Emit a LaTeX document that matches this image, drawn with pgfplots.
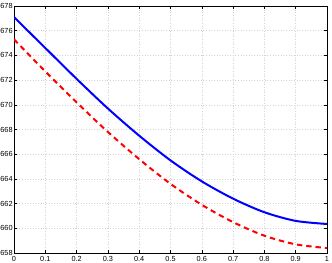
\documentclass[border=0pt]{standalone}
\usepackage{fontspec}
\setmainfont{Liberation Sans}
\usepackage{pgfplots}
\pgfplotsset{compat=1.18}

\begin{document}
\begin{tikzpicture}
\begin{axis}[
    scale only axis, width=234.75pt, height=185.25pt,
    xmin=0, xmax=1, ymin=658, ymax=678,
    xtick={0,0.1,...,1}, ytick={658,660,...,678},
    tick align=inside, major tick length=2.5pt,
    grid=major, grid style={gray!35, dash pattern=on 0.5pt off 1.5pt, line width=0.4pt},
    axis line style={line width=0.5pt},
    tick label style={font=\fontsize{5.5}{6}\selectfont},
    /pgf/number format/assume math mode=true,
    xticklabel style={yshift=1pt},
    yticklabel style={xshift=2.5pt},
    every tick/.style={black, line width=0.4pt}]
\addplot[blue, line width=1.5pt, smooth] coordinates {
  (0,677.1) (0.1,674.6) (0.2,672.1) (0.3,669.7) (0.4,667.5) (0.5,665.5)
  (0.6,663.8) (0.7,662.4) (0.8,661.3) (0.9,660.6) (1,660.35)
};
\addplot[red, line width=1.5pt, smooth, dash pattern=on 4pt off 3pt] coordinates {
  (0,675.3) (0.1,672.7) (0.2,670.2) (0.3,667.8) (0.4,665.6) (0.5,663.6)
  (0.6,661.9) (0.7,660.5) (0.8,659.4) (0.9,658.7) (1,658.4)
};
\coordinate (sw) at (rel axis cs:0,0);
\coordinate (ne) at (rel axis cs:1,1);
\end{axis}
\pgfresetboundingbox
\path ([xshift=-10.5pt, yshift=-7.5pt]sw) rectangle ([xshift=3.75pt, yshift=4.5pt]ne);
\end{tikzpicture}
\end{document}
